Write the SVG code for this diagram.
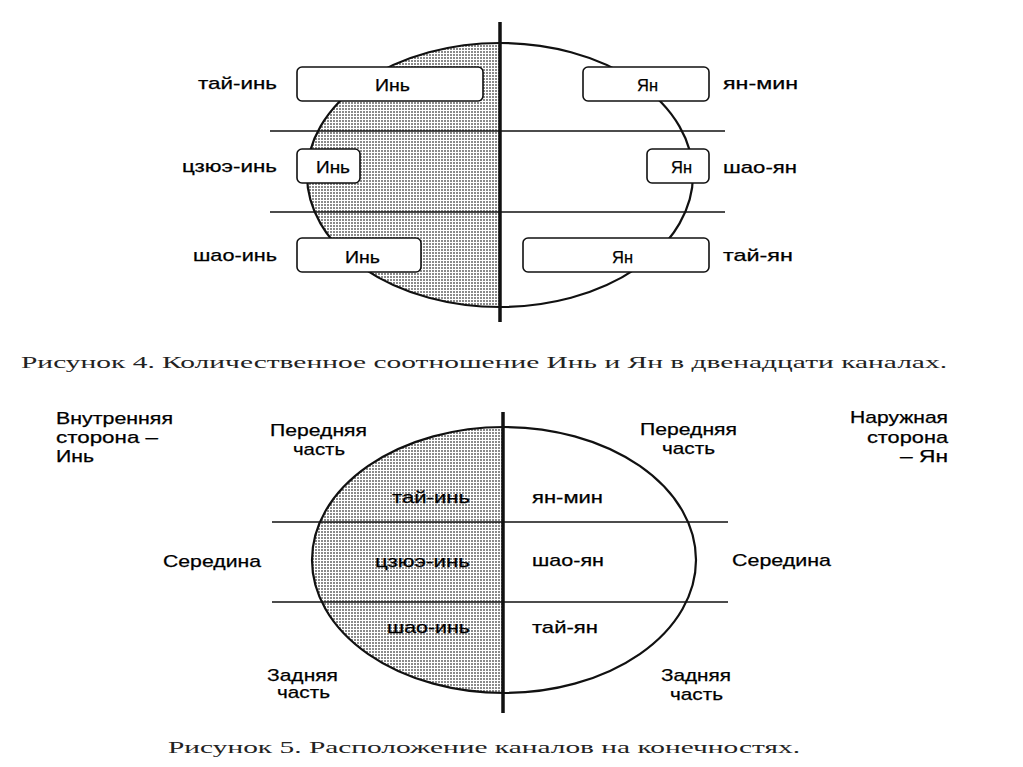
<svg xmlns="http://www.w3.org/2000/svg" width="1023" height="767" viewBox="0 0 1023 767">
<style>
.t{font-family:"Liberation Sans",Arial,sans-serif;font-size:17px;fill:#000;stroke:#000;stroke-width:0.25}
.c{font-family:"Liberation Serif","Times New Roman",serif;font-size:17px;fill:#222}
.box{fill:#fff;stroke:#111;stroke-width:1.6}
.ell{stroke:#111;stroke-width:2.2;fill:none}
.hl{stroke:#111;stroke-width:1.4}
.vl{stroke:#111;stroke-width:3.5}
</style>
<defs>
<pattern id="dots" width="3" height="3" patternUnits="userSpaceOnUse">
<rect x="0" y="0" width="2" height="2" fill="#8a8a8a"/>
</pattern>
<clipPath id="left4"><rect x="0" y="0" width="500" height="340"/></clipPath>
<clipPath id="left5"><rect x="0" y="390" width="503" height="340"/></clipPath>
</defs>
<rect width="1023" height="767" fill="#fff"/>

<g id="figure4">
<g id="ellipse4">
<ellipse cx="500" cy="175" rx="193" ry="132" fill="url(#dots)" clip-path="url(#left4)"/>
<ellipse class="ell" cx="500" cy="175" rx="193" ry="132"/>
</g>
<g id="dividers4">
<line class="hl" x1="270" y1="131" x2="725" y2="131"/>
<line class="hl" x1="270" y1="212" x2="725" y2="212"/>
<line class="vl" x1="500" y1="22" x2="500" y2="322"/>
</g>
<g id="yin-box-1"><rect class="box" x="297" y="67" width="186" height="34" rx="5"/><text class="t" x="375" y="91" textLength="35" lengthAdjust="spacingAndGlyphs">Инь</text></g>
<g id="yin-box-2"><rect class="box" x="297" y="149" width="63" height="34" rx="5"/><text class="t" x="316" y="173" textLength="34" lengthAdjust="spacingAndGlyphs">Инь</text></g>
<g id="yin-box-3"><rect class="box" x="297" y="238" width="124" height="34" rx="5"/><text class="t" x="345" y="263" textLength="35" lengthAdjust="spacingAndGlyphs">Инь</text></g>
<g id="yang-box-1"><rect class="box" x="583" y="67" width="126" height="34" rx="5"/><text class="t" x="637" y="91" textLength="21" lengthAdjust="spacingAndGlyphs">Ян</text></g>
<g id="yang-box-2"><rect class="box" x="647" y="149" width="62" height="34" rx="5"/><text class="t" x="671" y="173" textLength="21" lengthAdjust="spacingAndGlyphs">Ян</text></g>
<g id="yang-box-3"><rect class="box" x="523" y="238" width="186" height="34" rx="5"/><text class="t" x="612" y="263" textLength="21" lengthAdjust="spacingAndGlyphs">Ян</text></g>
<g id="labels4">
<text class="t" x="198" y="89" textLength="79" lengthAdjust="spacingAndGlyphs">тай-инь</text>
<text class="t" x="182" y="172" textLength="95" lengthAdjust="spacingAndGlyphs">цзюэ-инь</text>
<text class="t" x="193" y="261" textLength="84" lengthAdjust="spacingAndGlyphs">шао-инь</text>
<text class="t" x="723" y="89" textLength="75" lengthAdjust="spacingAndGlyphs">ян-мин</text>
<text class="t" x="723" y="173" textLength="74" lengthAdjust="spacingAndGlyphs">шао-ян</text>
<text class="t" x="723" y="261" textLength="70" lengthAdjust="spacingAndGlyphs">тай-ян</text>
</g>
<text id="caption4" class="c" x="21" y="368" textLength="926" lengthAdjust="spacingAndGlyphs">Рисунок 4. Количественное соотношение Инь и Ян в двенадцати каналах.</text>
</g>

<g id="figure5">
<g id="ellipse5">
<ellipse cx="504" cy="560" rx="192" ry="133" fill="url(#dots)" clip-path="url(#left5)"/>
<ellipse class="ell" cx="504" cy="560" rx="192" ry="133"/>
</g>
<g id="dividers5">
<line class="hl" x1="272" y1="522" x2="728" y2="522"/>
<line class="hl" x1="272" y1="602" x2="728" y2="602"/>
<line class="vl" x1="503" y1="412" x2="503" y2="713"/>
</g>
<g id="channels5">
<text class="t" x="392" y="503" textLength="78" lengthAdjust="spacingAndGlyphs">тай-инь</text>
<text class="t" x="375" y="567" textLength="95" lengthAdjust="spacingAndGlyphs">цзюэ-инь</text>
<text class="t" x="387" y="633" textLength="83" lengthAdjust="spacingAndGlyphs">шао-инь</text>
<text class="t" x="532" y="503" textLength="71" lengthAdjust="spacingAndGlyphs">ян-мин</text>
<text class="t" x="532" y="566" textLength="72" lengthAdjust="spacingAndGlyphs">шао-ян</text>
<text class="t" x="532" y="633" textLength="66" lengthAdjust="spacingAndGlyphs">тай-ян</text>
</g>
<g id="inner-side">
<text class="t" x="56" y="424" textLength="117" lengthAdjust="spacingAndGlyphs">Внутренняя</text>
<text class="t" x="56" y="443" textLength="102" lengthAdjust="spacingAndGlyphs">сторона –</text>
<text class="t" x="56" y="462" textLength="38" lengthAdjust="spacingAndGlyphs">Инь</text>
</g>
<g id="outer-side">
<text class="t" x="850" y="423" textLength="98" lengthAdjust="spacingAndGlyphs">Наружная</text>
<text class="t" x="867" y="443" textLength="81" lengthAdjust="spacingAndGlyphs">сторона</text>
<text class="t" x="900" y="462" textLength="48" lengthAdjust="spacingAndGlyphs">– Ян</text>
</g>
<g id="positions-left">
<text class="t" x="270" y="436" textLength="97" lengthAdjust="spacingAndGlyphs">Передняя</text>
<text class="t" x="293" y="455" textLength="52" lengthAdjust="spacingAndGlyphs">часть</text>
<text class="t" x="163" y="567" textLength="98" lengthAdjust="spacingAndGlyphs">Середина</text>
<text class="t" x="267" y="681" textLength="71" lengthAdjust="spacingAndGlyphs">Задняя</text>
<text class="t" x="277" y="698" textLength="53" lengthAdjust="spacingAndGlyphs">часть</text>
</g>
<g id="positions-right">
<text class="t" x="640" y="435" textLength="97" lengthAdjust="spacingAndGlyphs">Передняя</text>
<text class="t" x="662" y="454" textLength="53" lengthAdjust="spacingAndGlyphs">часть</text>
<text class="t" x="732" y="566" textLength="99" lengthAdjust="spacingAndGlyphs">Середина</text>
<text class="t" x="661" y="681" textLength="70" lengthAdjust="spacingAndGlyphs">Задняя</text>
<text class="t" x="670" y="700" textLength="53" lengthAdjust="spacingAndGlyphs">часть</text>
</g>
<text id="caption5" class="c" x="168" y="753" textLength="632" lengthAdjust="spacingAndGlyphs">Рисунок 5. Расположение каналов на конечностях.</text>
</g>
</svg>
